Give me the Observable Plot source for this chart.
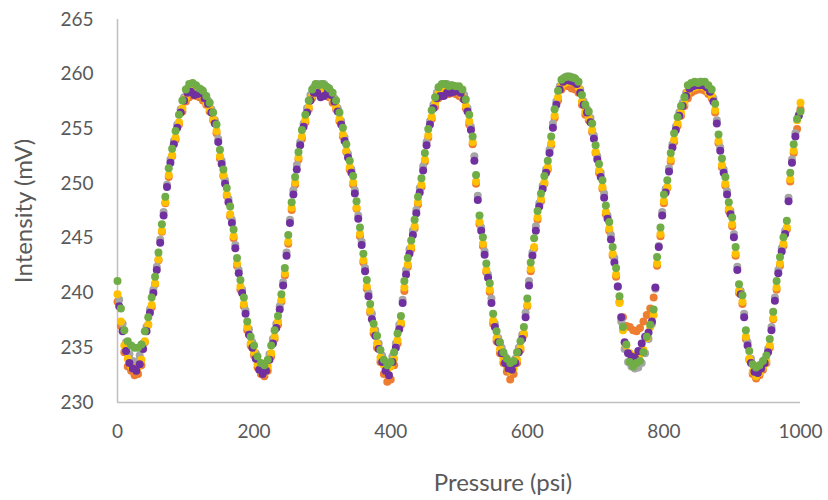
<!DOCTYPE html>
<html>
<head>
<meta charset="utf-8">
<script src="https://cdn.jsdelivr.net/npm/d3@7"></script>
<script src="https://cdn.jsdelivr.net/npm/@observablehq/plot@0.6"></script>
<style>
  html, body { margin: 0; padding: 0; background: #ffffff; }
  #chart { width: 828px; height: 500px; }
</style>
</head>
<body>
<div id="chart"></div>
<script>
// Pressure readings (psi): full-step grid and half-step grid
const pressure = [0,5,10,15,20,25,30,35,40,45,50,55,60,65,70,75,80,85,90,95,
100,105,110,115,120,125,130,135,140,145,150,155,160,165,170,175,180,185,190,195,
200,205,210,215,220,225,230,235,240,245,250,255,260,265,270,275,280,285,290,295,
300,305,310,315,320,325,330,335,340,345,350,355,360,365,370,375,380,385,390,395,
400,405,410,415,420,425,430,435,440,445,450,455,460,465,470,475,480,485,490,495,
500,505,510,515,520,525,530,535,540,545,550,555,560,565,570,575,580,585,590,595,
600,605,610,615,620,625,630,635,640,645,650,655,660,665,670,675,680,685,690,695,
700,705,710,715,720,725,730,735,740,745,750,755,760,765,770,775,780,785,790,795,
800,805,810,815,820,825,830,835,840,845,850,855,860,865,870,875,880,885,890,895,
900,905,910,915,920,925,930,935,940,945,950,955,960,965,970,975,980,985,990,995,1000];

const pressureHalf = [2.5,7.5,12.5,17.5,22.5,27.5,32.5,37.5,42.5,47.5,52.5,57.5,62.5,67.5,72.5,77.5,82.5,87.5,92.5,97.5,
102.5,107.5,112.5,117.5,122.5,127.5,132.5,137.5,142.5,147.5,152.5,157.5,162.5,167.5,172.5,177.5,182.5,187.5,192.5,197.5,
202.5,207.5,212.5,217.5,222.5,227.5,232.5,237.5,242.5,247.5,252.5,257.5,262.5,267.5,272.5,277.5,282.5,287.5,292.5,297.5,
302.5,307.5,312.5,317.5,322.5,327.5,332.5,337.5,342.5,347.5,352.5,357.5,362.5,367.5,372.5,377.5,382.5,387.5,392.5,397.5,
402.5,407.5,412.5,417.5,422.5,427.5,432.5,437.5,442.5,447.5,452.5,457.5,462.5,467.5,472.5,477.5,482.5,487.5,492.5,497.5,
502.5,507.5,512.5,517.5,522.5,527.5,532.5,537.5,542.5,547.5,552.5,557.5,562.5,567.5,572.5,577.5,582.5,587.5,592.5,597.5,
602.5,607.5,612.5,617.5,622.5,627.5,632.5,637.5,642.5,647.5,652.5,657.5,662.5,667.5,672.5,677.5,682.5,687.5,692.5,697.5,
702.5,707.5,712.5,717.5,722.5,727.5,732.5,737.5,742.5,747.5,752.5,757.5,762.5,767.5,772.5,777.5,782.5,787.5,792.5,797.5,
802.5,807.5,812.5,817.5,822.5,827.5,832.5,837.5,842.5,847.5,852.5,857.5,862.5,867.5,872.5,877.5,882.5,887.5,892.5,897.5,
902.5,907.5,912.5,917.5,922.5,927.5,932.5,937.5,942.5,947.5,952.5,957.5,962.5,967.5,972.5,977.5,982.5,987.5,992.5,997.5];

// Intensity (mV) per series
const orangeSeries = [239.2,237.0,234.6,233.3,232.9,232.5,232.6,233.4,235.5,237.1,238.7,240.8,243.0,245.6,248.2,250.6,252.5,254.0,255.4,256.6,
257.5,257.9,258.1,258.0,257.9,257.6,257.2,256.6,255.8,254.6,252.3,250.7,248.9,247.0,245.0,242.5,240.3,238.8,236.6,235.2,
234.3,233.2,232.6,232.4,232.9,234.2,235.8,237.1,239.2,241.6,244.5,247.6,249.9,252.2,254.1,255.6,256.8,257.8,258.3,258.5,
258.4,258.2,257.9,257.4,256.8,255.7,254.3,252.9,251.3,249.9,247.7,245.2,242.8,240.4,238.2,236.3,235.0,233.7,232.6,231.9,
232.1,233.4,235.4,237.1,240.2,242.4,244.0,245.9,248.1,249.7,252.0,254.2,255.9,257.0,257.8,258.0,258.1,258.2,258.3,258.2,
258.0,257.8,256.9,255.4,253.6,250.0,246.3,244.3,241.9,240.1,237.2,235.6,234.5,233.6,232.8,232.1,232.6,233.6,234.8,236.2,
238.8,242.0,244.1,246.7,248.4,250.0,251.3,253.5,256.0,257.6,258.6,259.0,258.9,258.7,258.6,258.3,257.2,256.3,255.8,254.7,
252.8,251.0,249.5,247.2,245.7,243.4,241.5,239.2,237.8,237.0,236.9,236.6,236.5,236.8,237.4,238.0,238.6,239.6,242.5,245.2,
248.2,249.6,252.0,253.8,255.3,256.2,257.1,257.8,258.3,258.5,258.6,258.6,258.5,258.2,257.8,256.5,253.7,251.5,249.8,247.5,
246.1,243.4,240.0,239.0,235.8,233.9,232.6,232.2,232.5,233.0,233.6,235.0,237.6,240.3,242.5,244.3,245.8,250.2,252.8,255.0,256.8];

const graySeries = [239.4,237.2,235.5,234.4,233.8,233.7,234.3,235.4,236.9,238.5,240.3,242.4,244.9,247.4,249.9,252.2,253.9,255.4,256.8,257.9,
258.7,258.9,258.7,258.7,258.6,258.1,257.6,256.8,255.8,254.1,252.1,250.3,248.6,246.7,244.4,242.1,240.3,238.4,236.7,235.5,
234.5,233.6,233.2,233.4,234.4,235.8,237.2,238.8,241.0,243.7,246.7,249.4,251.7,253.8,255.5,256.9,258.1,258.8,259.1,259.1,
259.1,258.8,258.4,257.8,256.9,255.7,254.2,252.7,251.3,249.4,247.1,244.7,242.3,240.0,238.1,236.6,235.4,234.3,233.5,233.5,
234.2,235.4,237.1,239.4,242.1,244.0,245.7,247.6,249.6,251.6,253.8,255.7,257.2,258.3,258.9,259.1,259.1,259.0,258.9,258.8,
258.6,258.1,256.9,255.2,252.5,248.9,246.0,243.8,241.7,239.5,237.2,235.9,235.0,234.2,233.7,233.6,234.0,235.0,236.2,238.2,
241.1,243.7,246.1,248.2,249.8,251.3,253.1,255.5,257.5,258.9,259.6,259.8,259.8,259.7,259.4,258.6,257.5,256.8,256.0,254.4,
252.5,251.0,249.1,247.1,245.3,243.2,240.6,237.4,234.9,233.7,233.3,233.1,233.2,233.6,234.5,235.8,237.2,240.4,244.3,247.4,
249.5,251.4,253.6,255.2,256.5,257.4,258.3,259.0,259.1,259.2,259.3,259.2,259.0,258.7,257.8,255.8,253.3,251.3,249.3,247.5,
245.4,242.4,240.2,238.1,235.5,234.0,233.2,233.1,233.5,233.9,234.9,236.9,239.6,242.1,244.1,245.7,248.7,252.2,254.6,256.3];

const yellowSeries = [239.9,237.4,235.2,234.0,233.3,233.0,233.2,233.9,235.6,237.1,238.9,240.9,243.1,245.7,248.3,250.8,252.6,254.2,255.6,256.9,
257.8,258.3,258.5,258.5,258.3,258.0,257.4,256.8,255.9,254.8,252.5,250.8,249.0,247.2,245.2,242.7,240.6,239.0,236.9,235.4,
234.6,233.5,232.8,232.7,233.3,234.5,236.0,237.4,239.4,241.8,244.7,247.8,250.1,252.4,254.3,255.8,257.0,258.0,258.4,258.7,
258.6,258.5,258.1,257.7,257.0,255.9,254.5,253.0,251.5,250.1,247.8,245.4,243.0,240.6,238.4,236.6,235.4,234.1,233.4,233.0,
233.3,234.0,235.7,237.3,240.5,242.6,244.2,246.1,248.3,249.9,252.2,254.4,256.1,257.4,258.3,258.7,258.8,258.8,258.7,258.6,
258.4,258.0,257.1,255.7,253.8,250.2,246.5,244.5,242.1,240.3,237.5,235.9,234.9,234.0,233.3,232.9,233.1,233.9,235.0,236.3,
238.9,242.2,244.2,246.9,248.6,250.1,251.5,253.7,256.2,257.9,258.9,259.2,259.3,259.3,259.2,258.8,257.5,256.6,256.0,254.9,
252.9,251.2,249.7,247.4,245.9,243.6,241.7,239.1,236.6,235.2,234.5,234.2,234.3,234.4,234.8,235.9,236.9,238.0,242.7,245.4,
248.4,249.7,252.2,254.0,255.5,256.5,257.3,258.4,258.7,258.8,258.9,258.9,258.8,258.4,258.0,256.7,253.9,251.7,250.0,247.7,
246.3,243.6,240.2,239.2,236.0,234.0,232.8,232.4,232.7,233.2,233.8,235.2,237.7,240.5,242.7,244.5,246.0,250.4,253.0,255.8,257.4];

const purpleSeries = [238.8,236.5,234.7,233.6,233.1,232.9,233.5,234.9,236.5,238.2,240.0,242.1,244.6,247.1,249.7,251.9,253.6,255.1,256.5,257.6,
258.3,258.4,258.1,258.2,258.3,257.8,257.3,256.5,255.5,253.8,251.8,250.0,248.3,246.4,244.1,241.8,240.0,238.1,236.2,235.0,
234.0,233.0,232.6,232.9,233.9,235.4,236.8,238.5,240.7,243.4,246.4,249.0,251.3,253.5,255.2,256.5,257.6,258.3,258.3,257.9,
258.0,258.3,258.1,257.5,256.6,255.4,253.9,252.4,251.0,249.1,246.8,244.4,242.0,239.7,237.6,236.1,234.9,233.7,232.9,232.5,
233.7,235.0,236.7,239.1,241.7,243.6,245.3,247.3,249.2,251.2,253.5,255.4,256.9,257.8,258.0,258.0,258.3,258.3,258.4,258.5,
258.3,257.7,256.6,254.9,252.1,248.5,245.7,243.5,241.4,239.1,236.9,235.5,234.5,233.6,233.1,233.0,233.6,234.6,235.8,237.8,
240.7,243.4,245.7,247.9,249.5,251.0,252.8,255.1,257.2,258.6,259.3,259.5,259.4,259.3,259.1,258.3,257.2,256.5,255.6,254.1,
252.2,250.6,248.7,246.8,244.9,242.8,240.6,237.8,235.5,234.5,234.2,234.1,234.7,235.4,236.0,236.4,237.4,240.5,244.2,247.1,
249.2,251.1,253.3,254.9,256.2,257.1,258.0,258.7,258.9,259.0,259.0,259.0,258.8,258.4,257.5,255.5,253.0,251.0,249.0,247.2,
245.1,242.1,239.9,237.8,235.2,233.6,232.8,232.7,233.1,233.6,234.6,236.6,239.3,241.8,243.8,245.4,248.4,251.9,254.3,256.2];

const greenSeries = [241.1,238.6,236.6,235.6,235.2,235.0,235.0,235.3,236.5,237.8,239.6,241.5,243.7,246.3,248.8,251.4,253.2,254.8,256.3,257.6,
258.6,259.1,259.2,259.0,258.7,258.5,258.0,257.4,256.5,255.4,253.1,251.3,249.6,247.9,245.8,243.2,241.2,239.6,237.4,236.0,
235.2,234.2,233.6,233.4,233.9,235.2,236.6,237.9,239.9,242.3,245.3,248.3,250.6,252.9,254.9,256.3,257.6,258.6,259.1,259.0,
259.1,258.9,258.7,258.3,257.6,256.5,255.1,253.6,252.1,250.7,248.4,246.0,243.6,241.2,239.0,237.2,236.1,234.8,233.9,233.4,
233.7,234.6,236.3,237.9,241.1,243.2,244.8,246.7,248.8,250.5,252.8,255.0,256.7,257.9,258.8,259.1,259.1,258.9,259.0,258.9,
258.9,258.6,257.7,256.3,254.3,250.8,247.1,245.1,242.7,240.9,238.1,236.5,235.5,234.6,234.0,233.6,233.8,234.6,235.6,236.9,
239.5,242.8,245.0,247.5,249.1,250.7,252.1,254.3,256.8,258.5,259.5,259.7,259.8,259.7,259.6,259.3,258.1,257.2,256.6,255.5,
253.5,251.8,250.3,248.0,246.5,244.2,242.3,239.7,236.9,235.3,233.7,233.3,233.6,233.8,234.6,236.0,237.1,238.5,243.3,246.0,
249.0,250.3,252.8,254.6,256.1,257.1,257.9,259.0,259.2,259.3,259.2,259.3,259.3,259.0,258.6,257.3,254.5,252.3,250.6,248.3,
246.9,244.2,240.8,239.8,236.6,234.7,233.5,233.2,233.4,233.8,234.3,235.8,238.3,241.1,243.3,245.1,246.6,251.0,253.6,255.9,256.6];

const seriesColors = ["#ED7D31", "#A5A5A5", "#FFC000", "#7030A0", "#70AD47"];
const xTicks = [0, 200, 400, 600, 800, 1000];
const yTicks = [230, 235, 240, 245, 250, 255, 260, 265];
const xTitle = "Pressure (psi)";
const yTitle = "Intensity (mV)";

const allSeries = [
  {p: pressure, v: orangeSeries},
  {p: pressureHalf, v: graySeries},
  {p: pressure, v: yellowSeries},
  {p: pressureHalf, v: purpleSeries},
  {p: pressure, v: greenSeries}
];
const dotMarks = allSeries.map((s, k) =>
  Plot.dot(s.p.map((p, i) => ({p, v: s.v[i]})), {
    x: "p", y: "v", r: 4, fill: seriesColors[k], stroke: "none"
  })
);

const chart = Plot.plot({
  width: 828,
  height: 500,
  marginLeft: 117,
  marginRight: 28,
  marginTop: 19,
  marginBottom: 98,
  style: {fontFamily: "Lato, 'Open Sans', sans-serif", fontSize: "19px", color: "#595959", background: "#ffffff", overflow: "visible"},
  x: {domain: [0, 1000]},
  y: {domain: [230, 265]},
  marks: [
    Plot.axisY({ticks: yTicks, tickSize: 0, tickPadding: 24, label: null, fill: "#595959", tickFormat: d => String(d)}),
    Plot.axisX({ticks: xTicks, tickSize: 0, tickPadding: 22, label: null, fill: "#595959", tickFormat: d => String(d)}),
    Plot.ruleX([0], {stroke: "#BFBFBF", strokeWidth: 1.5}),
    Plot.ruleY([230], {stroke: "#BFBFBF", strokeWidth: 1.5}),
    ...dotMarks,
    Plot.text([xTitle], {text: d => d, frameAnchor: "bottom", textAnchor: "middle", lineAnchor: "middle", dx: 44, dy: 81, fontSize: 24, fill: "#595959"}),
    Plot.text([yTitle], {text: d => d, frameAnchor: "left", textAnchor: "middle", lineAnchor: "middle", dx: -93, rotate: -90, fontSize: 24, fill: "#595959"})
  ]
});
document.getElementById("chart").appendChild(chart);
</script>
</body>
</html>
